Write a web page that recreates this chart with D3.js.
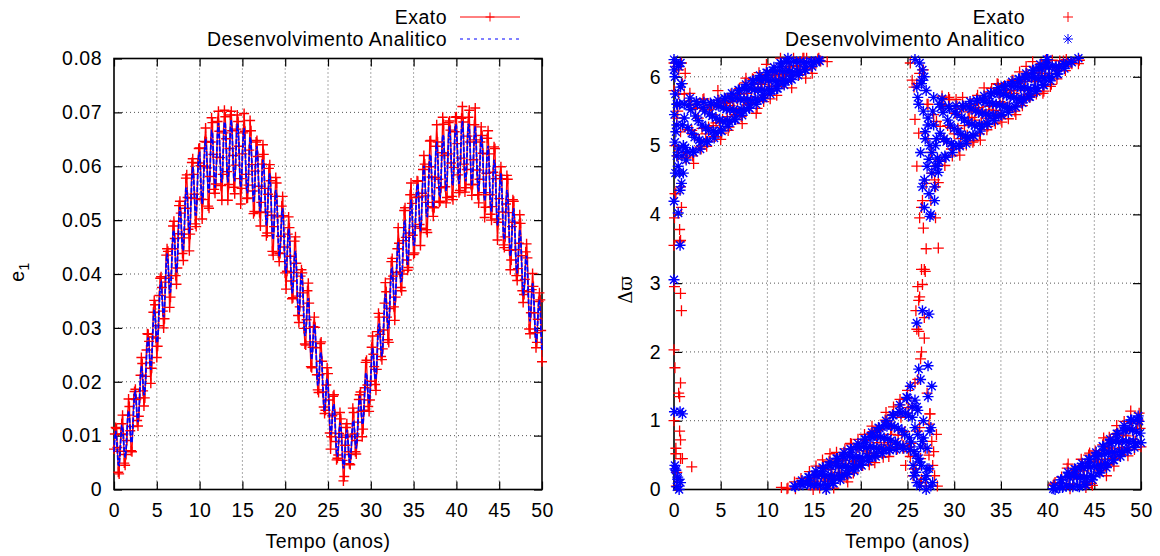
<!DOCTYPE html>
<html>
<head>
<meta charset="utf-8">
<script src="https://cdn.jsdelivr.net/npm/d3@7"></script>
<style>
  body { margin: 0; background: #fff; }
  svg { display: block; }
  text { font-family: "Liberation Sans", Arial, Helvetica, sans-serif; font-size: 19.5px; letter-spacing: 0.5px; fill: #000; }
</style>
</head>
<body>
<svg id="chart" width="1160" height="556"></svg>
<script>
// ---------------- DATA ----------------
const timeTicks = [0, 5, 10, 15, 20, 25, 30, 35, 40, 45, 50];
const e1Ticks = [0, 0.01, 0.02, 0.03, 0.04, 0.05, 0.06, 0.07, 0.08];
const e1TickLabels = ["0", "0.01", "0.02", "0.03", "0.04", "0.05", "0.06", "0.07", "0.08"];
const dpTicks = [0, 1, 2, 3, 4, 5, 6];
const seriesNames = ["Exato", "Desenvolvimento Analitico"];
const xTitle = "Tempo (anos)";
const TIME_STEP = 0.2; // main samples at t = 0, 0.2, ... 50 ; "Mid" samples at t = 0.1, 0.3, ... 49.9

// e1 (left panel)
const e1Exato = [
0.0075,0.0115,0.0078,0.0029,0.0102,0.0138,0.0049,0.0065,0.0138,0.0154,
0.0072,0.0117,0.0182,0.0167,0.0118,0.0170,0.0245,0.0183,0.0170,0.0259,
0.0288,0.0235,0.0225,0.0329,0.0343,0.0245,0.0304,0.0392,0.0375,0.0300,
0.0385,0.0447,0.0392,0.0357,0.0447,0.0498,0.0397,0.0411,0.0527,0.0513,
0.0438,0.0467,0.0578,0.0542,0.0443,0.0541,0.0614,0.0548,0.0488,0.0606,
0.0634,0.0539,0.0538,0.0646,0.0645,0.0526,0.0581,0.0690,0.0622,0.0550,
0.0617,0.0702,0.0616,0.0537,0.0662,0.0692,0.0590,0.0566,0.0695,0.0666,
0.0561,0.0602,0.0695,0.0637,0.0530,0.0623,0.0698,0.0585,0.0541,0.0630,
0.0666,0.0554,0.0516,0.0645,0.0618,0.0514,0.0533,0.0640,0.0559,0.0471,
0.0548,0.0603,0.0509,0.0435,0.0544,0.0569,0.0439,0.0438,0.0526,0.0508,
0.0402,0.0405,0.0506,0.0433,0.0354,0.0403,0.0469,0.0359,0.0310,0.0396,
0.0402,0.0299,0.0268,0.0369,0.0346,0.0228,0.0264,0.0320,0.0263,0.0185,
0.0213,0.0274,0.0181,0.0141,0.0194,0.0215,0.0105,0.0098,0.0173,0.0140,
0.0055,0.0064,0.0143,0.0097,0.0016,0.0082,0.0122,0.0070,0.0046,0.0098,
0.0143,0.0070,0.0091,0.0167,0.0181,0.0098,0.0147,0.0236,0.0194,0.0145,
0.0201,0.0285,0.0228,0.0184,0.0293,0.0320,0.0247,0.0261,0.0346,0.0367,
0.0278,0.0336,0.0423,0.0396,0.0314,0.0403,0.0486,0.0404,0.0369,0.0462,
0.0523,0.0426,0.0412,0.0547,0.0531,0.0436,0.0488,0.0573,0.0543,0.0453,
0.0550,0.0620,0.0545,0.0477,0.0599,0.0648,0.0525,0.0523,0.0637,0.0645,
0.0533,0.0560,0.0691,0.0620,0.0532,0.0623,0.0684,0.0606,0.0538,0.0664,
0.0692,0.0584,0.0555,0.0689,0.0682,0.0552,0.0594,0.0691,0.0645,0.0546,
0.0612,0.0708,0.0593,0.0532,0.0645,0.0657,0.0551,0.0524,0.0652,0.0623,
0.0511,0.0525,0.0636,0.0577,0.0463,0.0540,0.0599,0.0515,0.0449,0.0530,
0.0576,0.0444,0.0426,0.0538,0.0496,0.0397,0.0410,0.0510,0.0434,0.0347,
0.0390,0.0456,0.0367,0.0289,0.0371,0.0377,0.0291,0.0273,0.0349,0.0352,
0.0237];
const e1ExatoMid = [
0.0103,0.0113,0.0032,0.0071,0.0122,0.0103,0.0045,0.0091,0.0168,0.0109,
0.0070,0.0168,0.0186,0.0128,0.0136,0.0212,0.0234,0.0155,0.0210,0.0289,
0.0275,0.0197,0.0283,0.0351,0.0281,0.0266,0.0360,0.0395,0.0331,0.0317,
0.0435,0.0442,0.0338,0.0397,0.0489,0.0466,0.0381,0.0475,0.0535,0.0474,
0.0425,0.0522,0.0584,0.0483,0.0474,0.0607,0.0585,0.0493,0.0540,0.0633,
0.0601,0.0502,0.0600,0.0671,0.0597,0.0522,0.0645,0.0681,0.0557,0.0567,
0.0683,0.0665,0.0564,0.0585,0.0704,0.0651,0.0537,0.0633,0.0702,0.0620,
0.0549,0.0669,0.0683,0.0577,0.0559,0.0662,0.0665,0.0540,0.0565,0.0685,
0.0603,0.0512,0.0591,0.0648,0.0563,0.0489,0.0604,0.0622,0.0515,0.0476,
0.0596,0.0573,0.0442,0.0488,0.0579,0.0506,0.0423,0.0470,0.0544,0.0450,
0.0372,0.0474,0.0486,0.0387,0.0356,0.0461,0.0420,0.0323,0.0339,0.0408,
0.0365,0.0270,0.0315,0.0383,0.0274,0.0226,0.0302,0.0301,0.0213,0.0180,
0.0271,0.0238,0.0153,0.0147,0.0226,0.0166,0.0075,0.0137,0.0176,0.0089,
0.0058,0.0104,0.0131,0.0054,0.0024,0.0115,0.0101,0.0048,0.0065,0.0151,
0.0103,0.0066,0.0125,0.0176,0.0145,0.0112,0.0189,0.0240,0.0154,0.0166,
0.0264,0.0251,0.0195,0.0223,0.0327,0.0288,0.0241,0.0296,0.0384,0.0320,
0.0273,0.0391,0.0429,0.0339,0.0357,0.0447,0.0457,0.0375,0.0400,0.0518,
0.0468,0.0407,0.0476,0.0569,0.0472,0.0439,0.0542,0.0572,0.0492,0.0485,
0.0594,0.0604,0.0482,0.0533,0.0647,0.0580,0.0507,0.0579,0.0677,0.0576,
0.0535,0.0625,0.0678,0.0562,0.0542,0.0681,0.0667,0.0544,0.0598,0.0691,
0.0642,0.0551,0.0615,0.0711,0.0604,0.0560,0.0656,0.0704,0.0566,0.0566,
0.0677,0.0649,0.0547,0.0576,0.0673,0.0624,0.0505,0.0587,0.0666,0.0547,
0.0500,0.0589,0.0633,0.0502,0.0496,0.0583,0.0577,0.0454,0.0469,0.0583,
0.0514,0.0408,0.0488,0.0535,0.0445,0.0388,0.0457,0.0494,0.0369,0.0362,
0.0441,0.0430,0.0298,0.0328,0.0401,0.0328,0.0263,0.0316,0.0365,0.0295];

const e1Analitico = [
0.0070,0.0109,0.0069,0.0045,0.0096,0.0117,0.0070,0.0071,0.0134,0.0135,
0.0087,0.0116,0.0178,0.0161,0.0125,0.0175,0.0229,0.0195,0.0179,0.0247,
0.0282,0.0233,0.0240,0.0317,0.0324,0.0273,0.0307,0.0381,0.0361,0.0320,
0.0378,0.0438,0.0392,0.0367,0.0444,0.0481,0.0418,0.0420,0.0507,0.0509,
0.0444,0.0478,0.0559,0.0529,0.0475,0.0537,0.0599,0.0542,0.0510,0.0591,
0.0625,0.0549,0.0546,0.0635,0.0632,0.0555,0.0584,0.0664,0.0625,0.0560,
0.0620,0.0680,0.0611,0.0570,0.0649,0.0678,0.0593,0.0585,0.0671,0.0663,
0.0578,0.0603,0.0679,0.0633,0.0561,0.0617,0.0671,0.0597,0.0550,0.0624,
0.0646,0.0558,0.0544,0.0625,0.0611,0.0523,0.0544,0.0612,0.0564,0.0490,
0.0540,0.0587,0.0513,0.0464,0.0530,0.0546,0.0459,0.0442,0.0513,0.0496,
0.0411,0.0425,0.0484,0.0435,0.0364,0.0405,0.0443,0.0373,0.0325,0.0381,
0.0391,0.0310,0.0291,0.0349,0.0330,0.0251,0.0259,0.0306,0.0260,0.0193,
0.0225,0.0254,0.0191,0.0146,0.0190,0.0194,0.0124,0.0106,0.0154,0.0136,
0.0067,0.0079,0.0124,0.0089,0.0039,0.0070,0.0111,0.0073,0.0051,0.0104,
0.0127,0.0085,0.0091,0.0159,0.0165,0.0121,0.0150,0.0214,0.0196,0.0160,
0.0210,0.0263,0.0226,0.0207,0.0274,0.0308,0.0258,0.0265,0.0345,0.0352,
0.0300,0.0334,0.0408,0.0385,0.0342,0.0400,0.0459,0.0412,0.0387,0.0463,
0.0499,0.0433,0.0435,0.0520,0.0522,0.0454,0.0487,0.0566,0.0535,0.0479,
0.0540,0.0601,0.0542,0.0507,0.0588,0.0621,0.0543,0.0540,0.0629,0.0626,
0.0548,0.0577,0.0658,0.0618,0.0554,0.0614,0.0674,0.0606,0.0565,0.0645,
0.0674,0.0590,0.0582,0.0669,0.0661,0.0577,0.0603,0.0679,0.0635,0.0563,
0.0620,0.0674,0.0600,0.0553,0.0627,0.0649,0.0560,0.0546,0.0626,0.0612,
0.0523,0.0544,0.0612,0.0564,0.0490,0.0540,0.0587,0.0513,0.0464,0.0530,
0.0546,0.0459,0.0442,0.0513,0.0496,0.0411,0.0424,0.0482,0.0432,0.0360,
0.0400,0.0434,0.0362,0.0312,0.0363,0.0370,0.0295,0.0281,0.0344,0.0330,
0.0256];
const e1AnaliticoMid = [
0.0098,0.0096,0.0046,0.0066,0.0118,0.0096,0.0059,0.0103,0.0146,0.0109,
0.0089,0.0152,0.0181,0.0136,0.0141,0.0212,0.0220,0.0175,0.0207,0.0276,
0.0260,0.0222,0.0278,0.0334,0.0296,0.0275,0.0350,0.0384,0.0332,0.0338,
0.0420,0.0424,0.0366,0.0399,0.0477,0.0453,0.0403,0.0464,0.0524,0.0474,
0.0445,0.0526,0.0559,0.0492,0.0494,0.0581,0.0581,0.0510,0.0543,0.0624,
0.0591,0.0530,0.0591,0.0651,0.0590,0.0551,0.0632,0.0661,0.0582,0.0576,
0.0664,0.0656,0.0574,0.0602,0.0682,0.0640,0.0570,0.0628,0.0686,0.0616,
0.0572,0.0649,0.0673,0.0586,0.0575,0.0658,0.0645,0.0557,0.0579,0.0654,
0.0606,0.0533,0.0585,0.0637,0.0563,0.0516,0.0586,0.0605,0.0516,0.0501,
0.0577,0.0560,0.0472,0.0490,0.0556,0.0507,0.0433,0.0478,0.0522,0.0448,
0.0401,0.0461,0.0475,0.0390,0.0372,0.0436,0.0418,0.0335,0.0346,0.0402,
0.0354,0.0285,0.0320,0.0355,0.0286,0.0241,0.0289,0.0296,0.0218,0.0198,
0.0250,0.0230,0.0156,0.0162,0.0206,0.0162,0.0102,0.0130,0.0158,0.0098,
0.0061,0.0106,0.0118,0.0057,0.0045,0.0099,0.0099,0.0051,0.0073,0.0127,
0.0109,0.0076,0.0125,0.0174,0.0141,0.0124,0.0187,0.0216,0.0171,0.0176,
0.0246,0.0252,0.0204,0.0235,0.0303,0.0286,0.0247,0.0305,0.0363,0.0324,
0.0302,0.0377,0.0410,0.0355,0.0360,0.0441,0.0445,0.0386,0.0419,0.0495,
0.0470,0.0417,0.0478,0.0538,0.0485,0.0454,0.0534,0.0566,0.0497,0.0497,
0.0584,0.0582,0.0508,0.0540,0.0621,0.0586,0.0523,0.0585,0.0646,0.0583,
0.0545,0.0625,0.0655,0.0575,0.0570,0.0658,0.0651,0.0569,0.0597,0.0678,
0.0637,0.0567,0.0626,0.0684,0.0615,0.0572,0.0649,0.0674,0.0588,0.0578,
0.0661,0.0648,0.0560,0.0582,0.0657,0.0609,0.0535,0.0586,0.0638,0.0563,
0.0516,0.0586,0.0605,0.0516,0.0501,0.0577,0.0560,0.0472,0.0490,0.0556,
0.0507,0.0433,0.0478,0.0522,0.0448,0.0401,0.0460,0.0472,0.0387,0.0368,
0.0429,0.0408,0.0323,0.0331,0.0383,0.0336,0.0273,0.0313,0.0352,0.0289];

// Delta varpi (right panel, radians in [0, 2pi))
const dpExato = [
5.80,0.60,5.50,3.60,6.20,4.90,4.82,4.90,5.58,5.65,
4.85,5.16,5.60,5.40,4.98,5.25,5.68,5.17,5.06,5.53,
5.56,5.29,5.13,5.62,5.66,5.09,5.38,5.66,5.63,5.22,
5.58,5.70,5.54,5.43,5.65,5.83,5.42,5.53,5.91,5.76,
5.62,5.62,5.97,5.89,5.47,5.85,5.98,5.89,5.64,6.03,
5.99,5.82,5.86,6.06,6.10,5.73,5.98,6.27,6.01,5.96,
6.05,0.02,6.15,5.84,6.27,0.01,6.15,6.03,0.16,6.27,
6.11,6.27,0.16,0.07,6.05,0.12,0.34,6.26,0.02,0.19,
0.34,0.12,6.22,0.41,0.29,0.16,0.16,0.54,0.25,0.14,
0.42,0.51,0.33,0.11,0.54,0.66,0.24,0.41,0.61,0.62,
0.41,0.35,0.80,0.56,0.47,0.60,0.92,0.52,0.48,0.86,
0.87,0.58,0.47,1.01,0.99,0.48,0.80,1.09,0.91,0.61,
0.79,1.31,0.79,0.64,1.11,1.44,0.62,0.67,0.20,1.55,
5.90,2.30,0.45,4.20,3.20,0.05,5.10,1.10,4.60,5.45,
4.40,4.71,4.79,5.60,5.58,4.71,5.06,5.70,5.26,4.85,
5.17,5.67,5.25,4.86,5.53,5.57,5.11,5.15,5.49,5.59,
5.05,5.37,5.68,5.55,5.08,5.50,5.84,5.40,5.28,5.57,
5.83,5.47,5.32,5.90,5.75,5.42,5.62,5.80,5.77,5.39,
5.80,5.95,5.76,5.45,5.90,6.07,5.62,5.66,5.93,6.04,
5.74,5.73,6.22,5.95,5.75,6.05,6.11,6.02,5.79,6.24,
6.25,6.05,5.89,0.06,0.10,5.97,6.14,0.09,0.09,6.15,
6.25,0.37,0.01,6.19,0.27,0.22,0.07,6.24,0.44,0.31,
0.11,0.08,0.50,0.41,0.06,0.34,0.49,0.40,0.27,0.44,
0.75,0.34,0.36,0.76,0.59,0.45,0.46,0.93,0.68,0.51,
0.61,0.99,0.78,0.49,0.89,0.96,0.73,0.70,0.96,1.11,
0.62];
const dpExatoMid = [
4.30,6.15,1.40,5.20,0.45,5.75,4.82,5.23,5.76,5.22,
4.74,5.54,5.60,5.08,4.95,5.67,5.52,4.99,5.27,5.58,
5.45,5.13,5.33,5.80,5.33,5.18,5.62,5.61,5.42,5.27,
5.75,5.64,5.45,5.48,5.80,5.75,5.32,5.69,5.98,5.59,
5.61,5.81,5.96,5.70,5.54,6.06,5.91,5.70,5.73,6.18,
5.94,5.68,6.02,6.08,5.96,5.86,6.03,0.03,5.90,5.92,
0.01,6.13,6.03,6.01,0.11,6.16,6.08,6.21,0.12,6.27,
5.98,0.11,0.26,6.13,0.00,0.20,0.22,6.27,6.23,0.43,
0.16,0.01,0.14,0.52,0.19,0.02,0.43,0.38,0.21,0.24,
0.43,0.59,0.17,0.32,0.67,0.38,0.33,0.42,0.73,0.41,
0.42,0.62,0.71,0.53,0.36,0.81,0.84,0.39,0.68,0.90,
0.77,0.53,0.65,1.12,0.68,0.57,0.89,1.20,0.66,0.59,
1.23,1.05,0.60,0.84,1.32,1.19,0.48,1.20,0.30,2.60,
0.85,6.05,0.15,3.80,0.60,5.60,0.95,4.90,0.35,4.50,
5.35,4.46,5.28,5.72,5.09,4.83,5.29,5.67,4.95,5.00,
5.47,5.57,4.96,5.10,5.70,5.29,5.01,5.40,5.61,5.41,
5.07,5.53,5.73,5.17,5.33,5.63,5.69,5.23,5.52,5.78,
5.58,5.40,5.51,5.89,5.64,5.34,5.86,5.86,5.54,5.57,
5.80,5.95,5.50,5.70,5.94,5.94,5.58,5.80,6.15,5.74,
5.70,6.06,6.05,5.93,5.79,6.14,6.19,5.76,6.05,6.23,
6.17,5.86,6.24,0.08,6.11,6.09,6.23,0.18,6.23,6.09,
0.31,0.17,6.20,0.08,0.23,0.27,6.19,0.21,0.35,0.27,
0.03,0.31,0.53,0.09,0.19,0.56,0.43,0.32,0.31,0.65,
0.57,0.20,0.61,0.71,0.56,0.34,0.80,0.82,0.49,0.59,
0.79,0.89,0.61,0.61,1.14,0.85,0.58,0.89,1.01,0.89];

const dpAnalitico = [
6.10,5.20,0.15,4.60,5.90,5.00,4.97,4.91,5.59,5.52,
4.92,5.12,5.64,5.36,4.95,5.30,5.63,5.26,5.05,5.46,
5.60,5.21,5.19,5.59,5.57,5.22,5.35,5.69,5.53,5.28,
5.52,5.76,5.52,5.38,5.69,5.80,5.52,5.51,5.83,5.82,
5.55,5.66,5.94,5.81,5.60,5.81,6.02,5.81,5.69,5.96,
6.06,5.81,5.80,6.09,6.08,5.83,5.94,6.20,6.08,5.88,
6.08,6.27,6.08,5.96,6.22,0.04,6.08,6.07,0.08,0.07,
6.10,6.21,0.18,0.07,6.15,0.07,0.27,0.07,6.23,0.21,
0.31,0.07,0.06,0.35,0.34,0.09,0.19,0.45,0.34,0.14,
0.34,0.54,0.34,0.22,0.48,0.58,0.34,0.33,0.62,0.61,
0.36,0.46,0.73,0.61,0.41,0.62,0.83,0.61,0.48,0.77,
0.89,0.60,0.58,0.93,0.92,0.59,0.71,1.08,0.91,0.58,
0.89,1.23,0.86,0.60,1.11,1.33,0.75,0.69,0.35,1.30,
0.10,5.60,0.62,6.10,4.50,0.20,5.30,0.85,4.90,5.70,
4.70,4.82,4.77,5.56,5.48,4.85,5.06,5.57,5.30,4.90,
5.25,5.58,5.21,4.99,5.41,5.56,5.14,5.12,5.56,5.53,
5.15,5.29,5.66,5.48,5.21,5.47,5.72,5.46,5.31,5.63,
5.75,5.44,5.43,5.77,5.76,5.45,5.57,5.87,5.73,5.48,
5.71,5.93,5.70,5.56,5.86,5.96,5.69,5.68,5.99,5.98,
5.71,5.82,6.10,5.98,5.78,5.98,6.18,5.99,5.88,6.14,
6.25,6.00,6.00,0.01,0.00,6.04,6.15,0.14,0.03,6.12,
0.05,0.25,0.05,6.21,0.19,0.29,0.05,0.04,0.33,0.32,
0.07,0.18,0.44,0.33,0.14,0.34,0.54,0.35,0.24,0.51,
0.62,0.38,0.38,0.67,0.67,0.43,0.54,0.81,0.69,0.48,
0.70,0.93,0.70,0.57,0.88,1.01,0.70,0.67,1.01,0.99,
0.68];
const dpAnaliticoMid = [
0.30,5.60,4.95,6.20,1.10,5.40,4.79,5.26,5.69,5.18,
4.90,5.43,5.60,5.08,5.05,5.55,5.50,5.06,5.22,5.62,
5.43,5.11,5.40,5.66,5.37,5.21,5.55,5.68,5.36,5.35,
5.69,5.68,5.38,5.50,5.81,5.67,5.44,5.67,5.89,5.67,
5.54,5.83,5.94,5.67,5.66,5.96,5.95,5.69,5.80,6.06,
5.95,5.75,5.95,6.14,5.94,5.83,6.09,6.19,5.95,5.94,
6.22,6.21,5.97,6.07,0.05,6.22,6.02,6.22,0.13,6.21,
6.10,0.08,0.18,6.22,6.21,0.21,0.20,6.24,0.06,0.32,
0.20,0.00,0.20,0.40,0.20,0.09,0.35,0.45,0.20,0.20,
0.48,0.47,0.23,0.33,0.59,0.47,0.27,0.47,0.67,0.47,
0.35,0.62,0.73,0.48,0.47,0.77,0.76,0.49,0.60,0.90,
0.76,0.52,0.75,1.00,0.74,0.57,0.93,1.08,0.69,0.66,
1.13,1.11,0.63,0.80,1.34,1.07,0.58,1.05,0.55,0.25,
1.15,0.40,5.95,0.75,5.20,0.30,4.80,0.05,5.50,4.40,
5.10,4.61,5.18,5.68,5.10,4.83,5.37,5.54,5.03,5.00,
5.49,5.45,5.01,5.16,5.58,5.37,5.03,5.34,5.64,5.31,
5.14,5.51,5.65,5.30,5.28,5.66,5.63,5.32,5.44,5.76,
5.61,5.36,5.60,5.84,5.59,5.44,5.75,5.86,5.56,5.55,
5.87,5.86,5.57,5.68,5.97,5.84,5.62,5.84,6.05,5.83,
5.71,5.99,6.09,5.84,5.84,6.12,6.12,5.88,5.98,6.25,
6.14,5.94,6.15,0.06,6.15,6.04,0.03,0.14,6.19,6.18,
0.19,0.18,6.22,0.04,0.30,0.18,6.27,0.18,0.38,0.18,
0.07,0.33,0.44,0.20,0.19,0.48,0.48,0.25,0.35,0.63,
0.52,0.32,0.53,0.73,0.54,0.43,0.70,0.81,0.55,0.54,
0.86,0.86,0.57,0.69,1.01,0.87,0.61,0.84,1.07,0.82];

// extra samples in the fast-circulation zones (t near 0 and near 26-28): [time, Delta varpi]
const dpExatoExtra = [
[0.05,2.95],[0.7,2.85],[0.8,2.6],[0.0,2.03],[0.1,1.77],[0.7,1.55],[0.6,1.35],[0.0,1.0],
[0.6,0.85],[0.7,0.72],[0.2,0.52],[0.7,0.45],[1.9,0.33],[0.3,0.25],[0.6,3.78],[0.7,3.62],
[0.0,3.55],[0.5,6.1],[0.9,5.9],[0.5,5.75],[0.1,5.0],[0.4,4.85],[0.7,4.4],[0.2,4.3],
[0.8,4.1],[0.05,3.95],[0.0,6.2],[0.3,5.4],[1.2,6.05],[0.25,0.05],
[25.3,6.2],[25.5,5.95],[25.7,5.85],[25.8,5.38],[26.2,5.18],[26.0,4.7],[27.0,4.45],[26.3,3.95],
[28.3,3.51],[26.5,3.2],[26.9,3.17],[26.1,2.95],[26.3,2.8],[26.6,2.98],[26.2,2.75],[26.8,2.5],
[26.0,2.33],[26.5,2.0],[26.8,2.2],[26.1,1.6],[27.1,1.4],[27.4,1.1],[26.3,0.9],[27.6,0.7],
[27.9,0.2],[28.2,0.05],[27.3,0.5],[26.4,0.1],[25.9,0.3],[27.5,4.2],[28.0,3.95],[26.5,4.1],
[27.8,0.55],[28.1,0.8],[26.7,6.1],[27.2,5.6],[24.8,0.35],[25.1,0.55],[27.0,3.5],[26.4,1.9]
];
const dpAnaliticoExtra = [
[0.0,6.25],[0.1,6.0],[0.15,5.75],[0.05,5.45],[0.3,5.3],[0.1,5.05],[0.5,6.15],[0.6,5.6],
[0.3,4.85],[0.45,4.7],[0.0,4.19],[0.45,4.02],[0.15,4.6],[0.65,4.35],[0.8,4.45],[0.65,3.55],
[0.0,3.05],[0.05,1.13],[0.65,1.13],[0.2,0.28],[0.4,0.18],[0.7,0.1],[0.3,0.04],[0.1,0.35],
[0.55,0.0],[0.9,5.3],[1.1,5.6],[0.7,5.85],[0.25,6.2],[0.85,4.85],[1.0,4.6],[0.35,5.6],
[25.7,0.2],[25.9,0.5],[26.1,0.8],[26.3,0.05],[26.5,0.35],[26.7,1.0],[26.9,0.15],[27.1,0.6],
[27.3,0.3],[27.5,0.9],[27.7,0.1],[26.0,1.2],[26.6,0.7],[27.2,1.35],[25.8,0.9],[27.2,1.8],
[26.4,1.6],[26.0,2.42],[26.6,2.6],[27.3,2.55],[27.6,1.5],[26.2,1.75],[26.3,6.2],[26.5,5.9],
[26.7,5.5],[26.9,5.1],[27.1,4.7],[27.3,4.3],[27.5,4.0],[26.4,4.9],[26.6,4.4],[26.8,6.0],
[27.0,5.8],[27.2,5.4],[27.4,5.0],[27.6,4.6],[27.8,5.3],[28.0,5.0],[26.1,5.7],[27.9,4.2],
[28.2,4.7],[28.4,5.6],[25.8,6.25],[26.0,5.85],[27.4,3.97],[26.8,4.1],[27.0,0.0],[26.2,0.45],
[25.5,1.2],[25.3,1.5]
];

// ---------------- DRAWING ----------------
const RED = "#ff0000", BLUE = "#0000ff";
const svg = d3.select("#chart");

// merge main samples (t = 0.2k) with mid samples (t = 0.2k + 0.1) into time order
const merge = (main, mid) => main.flatMap((v, i) => i < mid.length
  ? [[i * TIME_STEP, v], [i * TIME_STEP + TIME_STEP / 2, mid[i]]]
  : [[i * TIME_STEP, v]]);

const xL = d3.scaleLinear().domain([0, 50]).range([114, 542]);
const yL = d3.scaleLinear().domain([0, 0.08]).range([489.5, 58.5]);
const xR = d3.scaleLinear().domain([0, 50]).range([674, 1141]);
const yR = d3.scaleLinear().domain([0, 2 * Math.PI]).range([489.5, 57.3]);

const plusPath = r => `M${-r},0H${r}M0,${-r}V${r}`;
const starPath = r => { const d = r * 0.72; return `M${-r},0H${r}M0,${-r}V${r}M${-d},${-d}L${d},${d}M${-d},${d}L${d},${-d}`; };

function frame(x, y, yTicks, yFmt, labelPad) {
  const g = svg.append("g");
  const [x0, x1] = x.range();
  const [y0, y1] = y.range();
  g.append("g").selectAll("line").data(timeTicks.filter(d => d > 0 && d < 50)).join("line")
    .attr("x1", d => x(d)).attr("x2", d => x(d)).attr("y1", y0).attr("y2", y1)
    .attr("stroke", "#555").attr("stroke-width", 1).attr("stroke-dasharray", "1,3");
  g.append("g").selectAll("line").data(yTicks.filter(d => y(d) < y0 - 1 && y(d) > y1 + 1)).join("line")
    .attr("x1", x0).attr("x2", x1).attr("y1", d => y(d)).attr("y2", d => y(d))
    .attr("stroke", "#555").attr("stroke-width", 1).attr("stroke-dasharray", "1,3");
  const styleAxis = sel => { sel.select(".domain").remove(); sel.selectAll(".tick line").attr("stroke", "#000").attr("stroke-width", 1.2);
    sel.selectAll(".tick text").attr("fill", "#000"); sel.attr("font-family", null).attr("font-size", null); };
  g.append("g").attr("transform", `translate(0,${y0})`)
    .call(d3.axisBottom(x).tickValues(timeTicks).tickSize(-8).tickPadding(13.5).tickFormat(d3.format("d"))).call(styleAxis);
  g.append("g").attr("transform", `translate(0,${y1})`)
    .call(d3.axisTop(x).tickValues(timeTicks).tickSize(-8).tickFormat("")).call(styleAxis);
  g.append("g").attr("transform", `translate(${x0},0)`)
    .call(d3.axisLeft(y).tickValues(yTicks).tickSize(-8).tickPadding(labelPad).tickFormat(yFmt)).call(styleAxis);
  g.append("g").attr("transform", `translate(${x1},0)`)
    .call(d3.axisRight(y).tickValues(yTicks).tickSize(-8).tickFormat("")).call(styleAxis);
  g.append("rect").attr("x", x0).attr("y", y1).attr("width", x1 - x0).attr("height", y0 - y1)
    .attr("fill", "none").attr("stroke", "#000").attr("stroke-width", 1.6);
  svg.append("text").attr("x", (x0 + x1) / 2).attr("y", 548).attr("text-anchor", "middle").text(xTitle);
}

// ----- left panel -----
frame(xL, yL, e1Ticks, (d, i) => e1TickLabels[i], 12);
const exL = merge(e1Exato, e1ExatoMid);
const anL = merge(e1Analitico, e1AnaliticoMid);
const lineL = d3.line().x(d => xL(d[0])).y(d => yL(d[1]));
const gL = svg.append("g");
gL.append("path").datum(exL).attr("d", lineL).attr("fill", "none").attr("stroke", RED).attr("stroke-width", 1.3);
gL.append("g").selectAll("path").data(exL).join("path")
  .attr("transform", d => `translate(${xL(d[0])},${yL(d[1])})`)
  .attr("d", plusPath(5)).attr("stroke", RED).attr("stroke-width", 1.4).attr("fill", "none");
gL.append("path").datum(anL).attr("d", lineL).attr("fill", "none").attr("stroke", BLUE)
  .attr("stroke-width", 1.8).attr("stroke-dasharray", "5,1.5");

const yt = svg.append("text").attr("transform", "translate(24,272) rotate(-90)").attr("text-anchor", "middle");
yt.append("tspan").text("e");
yt.append("tspan").attr("font-size", "14px").attr("dy", 5).text("1");

svg.append("text").attr("x", 447).attr("y", 24).attr("text-anchor", "end").text(seriesNames[0]);
svg.append("text").attr("x", 447).attr("y", 46).attr("text-anchor", "end").text(seriesNames[1]);
svg.append("line").attr("x1", 460).attr("x2", 520).attr("y1", 17).attr("y2", 17).attr("stroke", RED).attr("stroke-width", 1);
svg.append("path").attr("transform", "translate(490,17)").attr("d", plusPath(4.5)).attr("stroke", RED).attr("fill", "none");
svg.append("line").attr("x1", 460).attr("x2", 520).attr("y1", 39).attr("y2", 39).attr("stroke", BLUE).attr("stroke-width", 1).attr("stroke-dasharray", "3,4");

// ----- right panel -----
frame(xR, yR, dpTicks, d3.format("d"), 13);
const exR = merge(dpExato, dpExatoMid).concat(dpExatoExtra);
const anR = merge(dpAnalitico, dpAnaliticoMid).concat(dpAnaliticoExtra);
const gR = svg.append("g");
gR.append("g").selectAll("path").data(exR).join("path")
  .attr("transform", d => `translate(${xR(d[0])},${yR(d[1])})`)
  .attr("d", plusPath(5.5)).attr("stroke", RED).attr("stroke-width", 1.3).attr("fill", "none");
gR.append("g").selectAll("path").data(anR).join("path")
  .attr("transform", d => `translate(${xR(d[0])},${yR(d[1])})`)
  .attr("d", starPath(5.5)).attr("stroke", BLUE).attr("stroke-width", 1.4).attr("fill", "none");

svg.append("text").attr("transform", "translate(626,290) rotate(-90)").attr("text-anchor", "middle")
  .attr("dy", "0.35em").style("font-family", "'DejaVu Serif', 'Liberation Serif', serif").style("font-size", "18px")
  .style("letter-spacing", "0px").text("Δϖ");

svg.append("text").attr("x", 1025).attr("y", 24).attr("text-anchor", "end").text(seriesNames[0]);
svg.append("text").attr("x", 1025).attr("y", 46).attr("text-anchor", "end").text(seriesNames[1]);
svg.append("path").attr("transform", "translate(1068,17)").attr("d", plusPath(5)).attr("stroke", RED).attr("fill", "none");
svg.append("path").attr("transform", "translate(1068,39)").attr("d", starPath(5)).attr("stroke", BLUE).attr("fill", "none");
</script>
</body>
</html>
